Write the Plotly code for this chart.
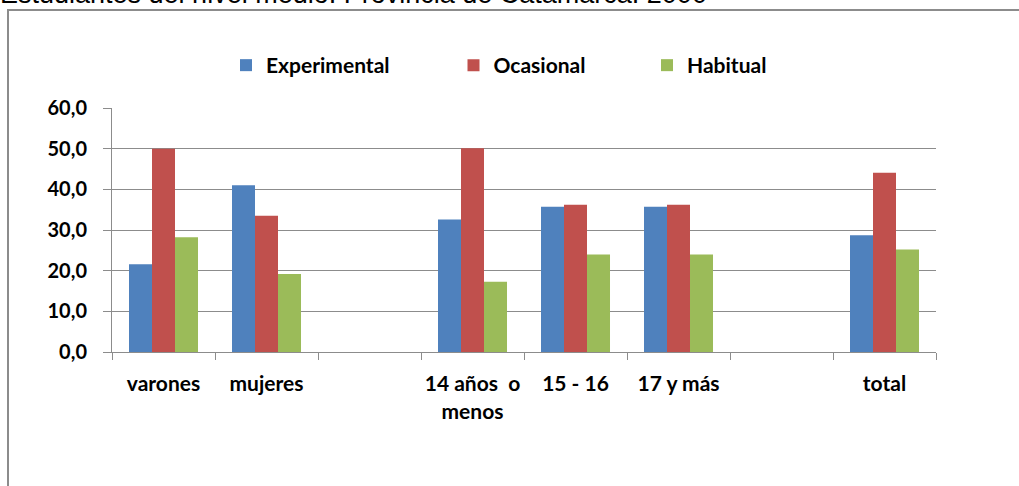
import plotly.graph_objects as go

categories = ["varones", "mujeres", " ", "14 años  o<br>menos", "15 - 16", "17 y más", "  ", "total"]
experimental = [21.6, 41.0, None, 32.6, 35.7, 35.7, None, 28.7]
ocasional = [50.0, 33.5, None, 50.1, 36.2, 36.2, None, 44.1]
habitual = [28.2, 19.2, None, 17.3, 24.0, 24.0, None, 25.2]
series_names = ["Experimental", "Ocasional", "Habitual"]
colors = ["#4F81BD", "#C0504D", "#9BBB59"]
title_text = "Estudiantes del nivel medio. Provincia de Catamarca. 2000"

W, H = 1019, 486
L, R, T, B = 112, 83, 108, 134
pw, ph = W - L - R, H - T - B

def px(x):
    return (x - L) / pw

def py(y):
    return (H - B - y) / ph

FONT = "Lato, Carlito, 'Open Sans', sans-serif"
fig = go.Figure()
legend_names = ["legend", "legend2", "legend3"]
for vals, name, col, lg in zip([experimental, ocasional, habitual], series_names, colors, legend_names):
    fig.add_trace(go.Bar(x=categories, y=vals, name=name, marker_color=col,
                         marker_line_width=0, legend=lg))

legend_x = [226, 453.5, 647]
common_leg = dict(orientation="h", yanchor="middle", xanchor="left", y=py(65.5),
                  font=dict(family=FONT, size=21, color="#000000", weight="bold"),
                  bgcolor="rgba(0,0,0,0)", borderwidth=0, itemclick=False)
fig.update_layout(
    legend=dict(x=px(legend_x[0]), **common_leg),
    legend2=dict(x=px(legend_x[1]), **common_leg),
    legend3=dict(x=px(legend_x[2]), **common_leg),
)

fig.update_layout(
    width=W, height=H,
    margin=dict(l=L, r=R, t=T, b=B, pad=0),
    paper_bgcolor="white", plot_bgcolor="white",
    barmode="group", bargap=0.33, bargroupgap=0,
    separators=",.",
    showlegend=True,
    font=dict(family=FONT, size=20, color="#000000"),
)
fig.update_yaxes(range=[0, 60], dtick=10, tickformat=".1f",
                 showgrid=True, gridcolor="#8C8C8C", gridwidth=1,
                 showline=True, linecolor="#8C8C8C", linewidth=1,
                 ticks="outside", ticklen=8, tickcolor="#8C8C8C",
                 ticklabelstandoff=12, zeroline=False,
                 tickfont=dict(family=FONT, size=20, color="#000000", weight="bold"))
fig.update_xaxes(showgrid=False, showline=True, linecolor="#8C8C8C", linewidth=1,
                 ticks="outside", ticklen=7, tickcolor="#8C8C8C", tickson="boundaries",
                 ticklabelstandoff=13, tickangle=0,
                 tickfont=dict(family=FONT, size=21, color="#000000", weight="bold"))

# frame
fig.add_shape(type="path", xref="paper", yref="paper",
              path=f"M {px(8)} {py(500)} L {px(8)} {py(10)} L {px(1030)} {py(10)}",
              line=dict(color="#8C8C8C", width=2), layer="above")

fig.add_annotation(text=title_text, xref="paper", yref="paper",
                   x=px(-2), y=py(11), xanchor="left", yanchor="bottom",
                   showarrow=False,
                   font=dict(family="'Liberation Sans', Arial", size=27, color="#000000"))

fig.write_html("out.html", config={"displayModeBar": False},
               post_script="document.body.style.margin='0';document.body.style.overflow='hidden';")
